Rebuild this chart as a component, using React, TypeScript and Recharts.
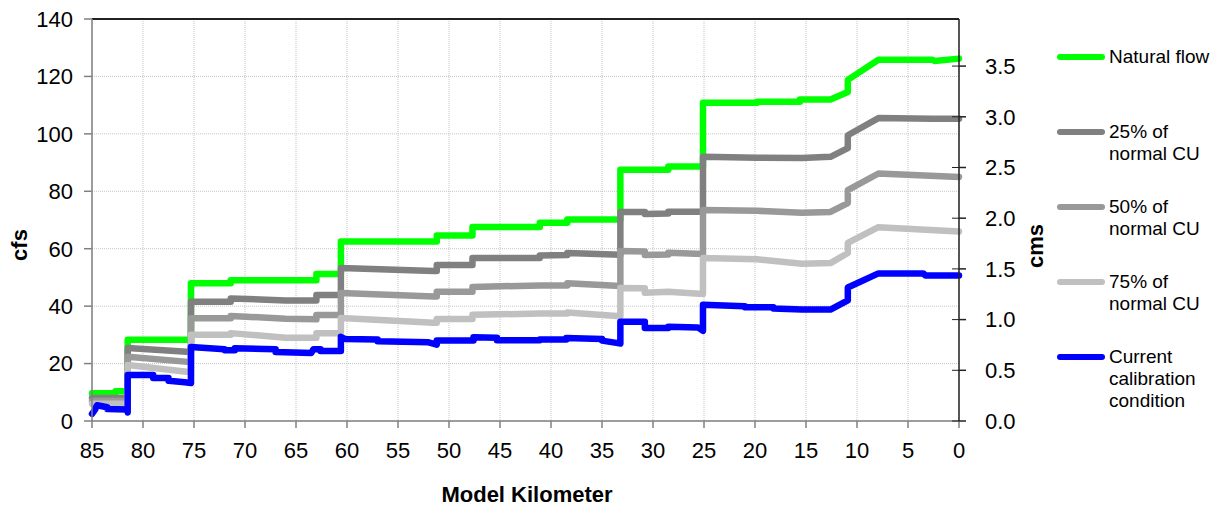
import React from "react";
import {
  CartesianGrid,
  Line,
  LineChart,
  ReferenceLine,
  XAxis,
  YAxis,
} from "recharts";

// flow profiles along the river, km 85 (upstream) down to km 0
// repeated km values are the step jumps at inflows
const naturalKm = [85, 82.7, 82.7, 81.5, 81.5, 75.3, 75.3, 71.4, 71.4, 63, 63, 60.6, 60.6, 51.2, 51.2, 47.7, 47.7, 41.1, 41.1, 38.4, 38.4, 33.2, 33.2, 28.5, 28.5, 25.1, 25.1, 19.8, 19.8, 15.6, 15.6, 12.6, 10.9, 10.9, 7.9, 2.6, 2.4, 0];
const naturalCfs = [9.7, 9.7, 10.4, 10.4, 28.3, 28.3, 48, 48, 49, 49, 51.2, 51.2, 62.5, 62.5, 64.6, 64.6, 67.6, 67.6, 69, 69, 70.2, 70.2, 87.5, 87.5, 88.6, 88.6, 110.8, 110.8, 111.2, 111.2, 112, 112, 114.6, 118.8, 125.8, 125.8, 125.4, 126.2];

const cu25Km = [85, 81.5, 81.5, 75.3, 75.3, 71.4, 71.4, 66, 63, 63, 60.6, 60.6, 51.5, 51.2, 51.2, 47.7, 47.7, 41.1, 41.1, 38.4, 38.4, 33.2, 33.2, 30.8, 30.8, 28.5, 28.5, 25.1, 25.1, 19.8, 15.4, 12.6, 10.9, 10.9, 7.9, 2.6, 0];
const cu25Cfs = [8, 8, 25.4, 24, 41.5, 41.5, 42.7, 42, 42, 43.9, 43.9, 53.3, 52.2, 52.2, 54.3, 54.3, 56.8, 56.8, 57.6, 57.8, 58.5, 57.9, 72.8, 72.8, 72.1, 72.3, 72.9, 72.9, 92, 91.7, 91.6, 92, 95, 99.5, 105.5, 105.3, 105.3];

const cu50Km = [85, 81.5, 81.5, 75.3, 75.3, 71.4, 71.4, 66, 63, 63, 60.6, 60.6, 51.5, 51.2, 51.2, 47.7, 47.7, 41.1, 38.4, 38.4, 33.2, 33.2, 30.8, 30.8, 28.5, 28.5, 25.1, 25.1, 19.8, 15.4, 12.6, 10.9, 10.9, 7.9, 0];
const cu50Cfs = [7, 7, 22.4, 20.5, 35.8, 35.8, 36.6, 35.6, 35.4, 36.9, 36.9, 44.6, 43.4, 43.4, 45, 45, 46.7, 47.2, 47.2, 48, 47, 59.2, 59, 57.8, 58, 58.6, 58.2, 73.5, 73.2, 72.5, 72.8, 75.9, 80.4, 86.2, 85];

const cu75Km = [85, 81.5, 81.5, 75.3, 75.3, 71.4, 71.4, 66, 63, 63, 60.6, 60.6, 51.5, 51.2, 51.2, 47.7, 47.7, 41.1, 38.4, 38.4, 33.2, 33.2, 30.8, 30.8, 28.5, 25.1, 25.1, 19.8, 15.4, 12.6, 10.9, 10.9, 7.9, 0];
const cu75Cfs = [6, 6, 19.5, 17, 30, 30, 30.6, 29, 29, 30.6, 30.6, 35.9, 34.2, 34.2, 35.5, 35.5, 37, 37.4, 37.4, 37.8, 36.5, 46.3, 46.2, 44.7, 45, 44.2, 56.8, 56.3, 54.8, 55, 58.5, 62, 67.5, 66];

const currentKm = [85, 84.7, 84.5, 84.5, 83.5, 83.5, 81.6, 81.5, 81.5, 79, 79, 77.5, 77.5, 75.9, 75.3, 75.3, 72, 72, 71, 71, 67, 67, 63.5, 63.3, 62.6, 62.6, 60.6, 60.6, 60.2, 57, 57, 52, 51.2, 51.2, 47.6, 47.6, 45.3, 45.3, 41.1, 41.1, 38.5, 38.5, 35, 35, 33.6, 33.2, 33.2, 30.8, 30.8, 28.5, 28.5, 25.6, 25.1, 25.1, 21, 21, 18.2, 18.2, 15.4, 12.6, 10.9, 10.9, 7.9, 3.5, 3.3, 0];
const currentCfs = [2.5, 4, 5.5, 5.5, 4.8, 4.2, 4, 3, 16, 16, 15, 15, 14, 13.5, 13.2, 25.8, 25, 24.6, 24.6, 25.3, 25, 24, 23.7, 25, 25, 24.4, 24.4, 29.3, 28.6, 28.4, 27.8, 27.4, 26.6, 28, 28, 29.2, 29, 28.1, 28.1, 28.4, 28.4, 28.9, 28.6, 28, 27.2, 27, 34.6, 34.6, 32.4, 32.4, 32.8, 32.6, 31.4, 40.5, 40, 39.6, 39.6, 39.2, 38.8, 38.8, 42, 46.5, 51.4, 51.4, 50.7, 50.7];

const kmTicks = [85, 80, 75, 70, 65, 60, 55, 50, 45, 40, 35, 30, 25, 20, 15, 10, 5, 0];
const cfsTicks = [0, 20, 40, 60, 80, 100, 120, 140];
const cmsTicks = [0, 0.5, 1, 1.5, 2, 2.5, 3, 3.5];
const CFS_PER_CMS = 35.3147;

const seriesNames = ["Natural flow", "25% of normal CU", "50% of normal CU", "75% of normal CU", "Current calibration condition"];
const legendLines = [["Natural flow"], ["25% of", "normal CU"], ["50% of", "normal CU"], ["75% of", "normal CU"], ["Current", "calibration", "condition"]];
const colors = ["#00ff00", "#808080", "#999999", "#c0c0c0", "#0000ff"];

const toRows = (km: number[], cfs: number[]) => km.map((k, i) => ({ km: k, cfs: cfs[i] }));

const series = [
  toRows(naturalKm, naturalCfs),
  toRows(cu25Km, cu25Cfs),
  toRows(cu50Km, cu50Cfs),
  toRows(cu75Km, cu75Cfs),
  toRows(currentKm, currentCfs),
];

// same natural flow profile in cms, only used to drive the right axis
const naturalCms = naturalKm.map((k, i) => ({ km: k, cms: naturalCfs[i] / CFS_PER_CMS }));

const font = "'Liberation Sans', Arial, sans-serif";
const tickStyle = { fontSize: 22, fill: "#000", fontFamily: font };

const CMS_TICK_SIZE = 7;
const CMS_TICK_MARGIN = 19;

// right axis ticks cross the axis line, so draw the inner half here
function CmsTick(props: any) {
  const { x, y, payload } = props;
  const axisX = x - CMS_TICK_SIZE - CMS_TICK_MARGIN;
  return (
    <g>
      <line x1={axisX - 7} x2={axisX} y1={y} y2={y} stroke="#222" strokeWidth={1} />
      <text x={x} y={y} dy="0.355em" textAnchor="start" fontSize={22} fill="#000" fontFamily={font}>
        {Number(payload.value).toFixed(1)}
      </text>
    </g>
  );
}

export default function App() {
  return (
    <div style={{ position: "absolute", left: 0, top: 0, width: 1218, height: 507, background: "#fff", fontFamily: font }}>
      <LineChart width={1218} height={507} margin={{ top: 19, right: 189, bottom: 46, left: 32 }}>
        <CartesianGrid yAxisId="left" stroke="#c4c4c4" strokeDasharray="1 1" />
        <XAxis
          dataKey="km"
          type="number"
          domain={[0, 85]}
          reversed
          ticks={kmTicks}
          interval={0}
          height={40}
          tick={tickStyle}
          tickSize={7}
          tickMargin={14}
          stroke="#808080"
          strokeWidth={1.5}
        />
        <YAxis
          yAxisId="left"
          domain={[0, 140]}
          ticks={cfsTicks}
          width={60}
          tick={tickStyle}
          tickSize={8}
          tickMargin={11}
          stroke="#808080"
          strokeWidth={1.5}
        />
        <YAxis
          yAxisId="right"
          orientation="right"
          type="number"
          domain={[0, 140 / CFS_PER_CMS]}
          allowDataOverflow
          ticks={cmsTicks}
          interval={0}
          width={70}
          tick={<CmsTick />}
          tickSize={CMS_TICK_SIZE}
          tickMargin={CMS_TICK_MARGIN}
          stroke="#222"
          strokeWidth={1.5}
        />
        <ReferenceLine yAxisId="left" y={140} stroke="#222" strokeWidth={2} />
        <Line
          yAxisId="right"
          data={naturalCms}
          dataKey="cms"
          type="linear"
          stroke="none"
          dot={false}
          activeDot={false}
          legendType="none"
          isAnimationActive={false}
        />
        {series.map((rows, i) => (
          <Line
            key={seriesNames[i]}
            yAxisId="left"
            data={rows}
            dataKey="cfs"
            name={seriesNames[i]}
            type="linear"
            stroke={colors[i]}
            strokeWidth={6.5}
            strokeLinejoin="round"
            strokeLinecap="round"
            dot={false}
            activeDot={false}
            isAnimationActive={false}
          />
        ))}
      </LineChart>

      <div style={{ position: "absolute", left: 20, top: 245, transform: "translate(-50%, -50%) rotate(-90deg)", fontSize: 22, fontWeight: "bold" }}>
        cfs
      </div>
      <div style={{ position: "absolute", left: 1036, top: 246, transform: "translate(-50%, -50%) rotate(-90deg)", fontSize: 22, fontWeight: "bold" }}>
        cms
      </div>
      <div style={{ position: "absolute", left: 527, top: 495, transform: "translate(-50%, -50%)", fontSize: 22, fontWeight: "bold", whiteSpace: "nowrap" }}>
        Model Kilometer
      </div>

      {legendLines.map((lines, i) => (
        <div key={seriesNames[i]} style={{ position: "absolute", left: 1057, top: 46 + i * 75, display: "flex", alignItems: "flex-start" }}>
          <div style={{ width: 48, height: 6, marginTop: 8, borderRadius: 3, background: colors[i] }} />
          <div style={{ marginLeft: 4, fontSize: 19, lineHeight: "22px", color: "#000" }}>
            {lines.map((t) => (
              <div key={t}>{t}</div>
            ))}
          </div>
        </div>
      ))}
    </div>
  );
}
